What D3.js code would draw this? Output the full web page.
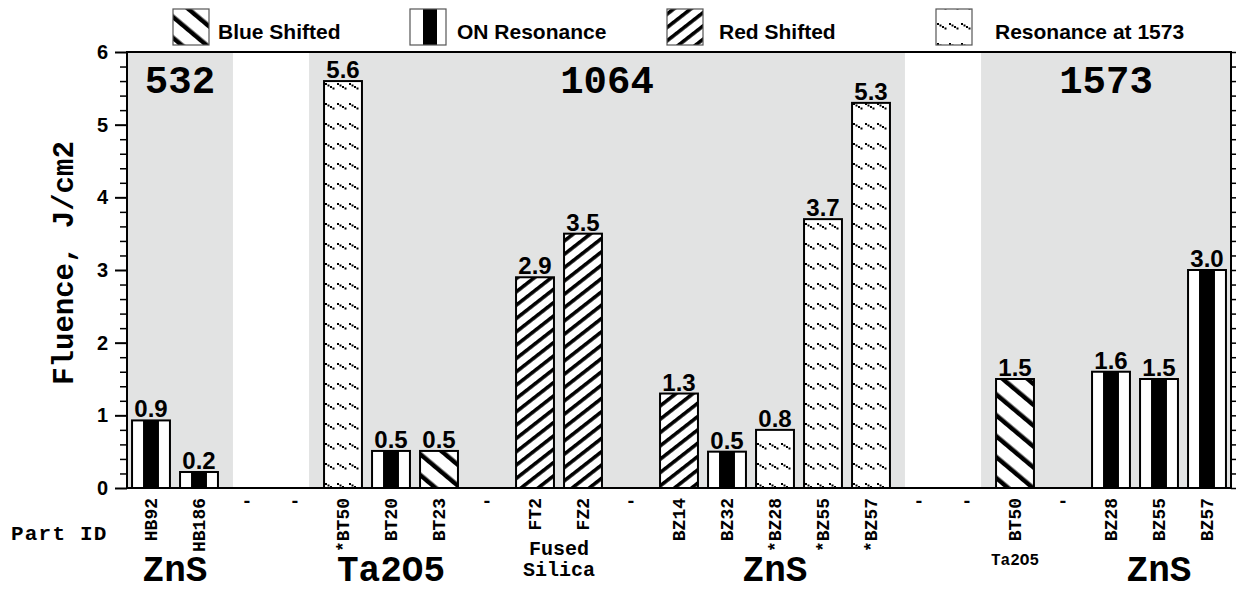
<!DOCTYPE html>
<html lang="en"><head>
  <meta charset="utf-8">
  <title>Damage threshold fluence by part</title>
  <script type="text/javascript" src="https://cdn.jsdelivr.net/npm/d3@7/dist/d3.min.js"></script>
  <style>
   body { margin: 0; background: white; }
   .mono { font-family: "Liberation Mono", "Courier New", monospace; font-weight: bold; }
   .sans { font-family: "Liberation Sans", Arial, Helvetica, sans-serif; font-weight: bold; }
  </style>
</head>
<body>
  <script type="text/javascript">
   // values
   var partIds = ["HB92", "HB186", "-", "-", "*BT50", "BT20", "BT23", "-", "FT2", "FZ2", "-",
                  "BZ14", "BZ32", "*BZ28", "*BZ55", "*BZ57", "-", "-", "BT50", "-", "BZ28", "BZ55", "BZ57"];
   var fluence = [0.93, 0.22, null, null, 5.6, 0.51, 0.51, null, 2.9, 3.5, null,
                  1.3, 0.5, 0.8, 3.7, 5.3, null, null, 1.5, null, 1.6, 1.5, 3.0];
   var shift = ["on", "on", null, null, "res", "on", "blue", null, "red", "red", null,
                "red", "on", "res", "res", "res", null, null, "blue", null, "on", "on", "on"];

   var legendKeys = ["blue", "on", "red", "res"];
   var legendLabels = ["Blue Shifted", "ON Resonance", "Red Shifted", "Resonance at 1573"];

   var laserLabels = ["532", "1064", "1573"];
   var laserFirst = [0, 4, 18];
   var laserLast = [1, 15, 22];

   var materialLabels = ["ZnS", "Ta2O5", "Fused Silica", "ZnS", "Ta2O5", "ZnS"];
   var materialFirst = [0, 4, 8, 11, 18, 20];
   var materialLast = [1, 6, 9, 15, 18, 22];

   var yTicks = [0, 1, 2, 3, 4, 5, 6];

   var width = 1236;
   var height = 593;
   var plotLeft = 127, plotRight = 1231, plotTop = 52, plotBottom = 488;

   var svg = d3.select("body").append("svg")
               .attr("width", width)
               .attr("height", height);

   var x = d3.scaleBand()
             .domain(d3.range(partIds.length))
             .range([plotLeft, plotRight])
             .paddingInner(0.21)
             .paddingOuter(0.105);
   var y = d3.scaleLinear().domain([0, 6]).range([plotBottom, plotTop]);
   var bw = x.bandwidth();

   // fill patterns
   var defs = svg.append("defs");

   var blue = defs.append("pattern").attr("id", "blue")
                  .attr("patternUnits", "userSpaceOnUse")
                  .attr("width", 16).attr("height", 16)
                  .attr("patternTransform", "rotate(-50)");
   blue.append("rect").attr("width", 16).attr("height", 16).attr("fill", "white");
   blue.append("rect").attr("width", 4.5).attr("height", 16).attr("fill", "black");

   var red = defs.append("pattern").attr("id", "red")
                 .attr("patternUnits", "userSpaceOnUse")
                 .attr("width", 10.5).attr("height", 10.5)
                 .attr("patternTransform", "rotate(52)");
   red.append("rect").attr("width", 10.5).attr("height", 10.5).attr("fill", "white");
   red.append("rect").attr("width", 3.6).attr("height", 10.5).attr("fill", "black");

   var res = defs.append("pattern").attr("id", "res")
                 .attr("patternUnits", "userSpaceOnUse")
                 .attr("width", 12).attr("height", 20);
   res.append("rect").attr("width", 12).attr("height", 20).attr("fill", "white");
   [[1, 3], [3.5, 4.5], [6, 6], [8.5, 7.5]].forEach(function(p) {
     res.append("rect").attr("x", p[0]).attr("y", p[1])
        .attr("width", 2).attr("height", 2).attr("fill", "black");
   });

   function fillFor(key) {
     if (key == "on") return "white";
     return "url(#" + key + ")";
   }

   // shaded laser wavelength regions
   var pad = 15;
   var regions = laserLabels.map(function(d, i) {
     var x0 = Math.max(plotLeft, x(laserFirst[i]) - pad);
     var x1 = Math.min(plotRight, x(laserLast[i]) + bw + pad);
     return {label: d, x0: x0, x1: x1};
   });

   svg.append("g").selectAll("rect")
      .data(regions).enter().append("rect")
      .attr("x", function(d) { return d.x0; })
      .attr("y", plotTop)
      .attr("width", function(d) { return d.x1 - d.x0; })
      .attr("height", plotBottom - plotTop)
      .attr("fill", "#e2e3e3");

   svg.append("g").selectAll("text")
      .data(regions).enter().append("text")
      .attr("class", "mono")
      .attr("x", function(d) { return (d.x0 + d.x1) / 2; })
      .attr("y", 93)
      .attr("text-anchor", "middle")
      .attr("font-size", 39)
      .text(function(d) { return d.label; });

   // bars
   var bars = partIds.map(function(d, i) {
     return {id: d, i: i, value: fluence[i], shift: shift[i]};
   }).filter(function(d) { return d.value != null; });

   var bar = svg.append("g").selectAll("g")
                .data(bars).enter().append("g");

   bar.append("rect")
      .attr("x", function(d) { return x(d.i); })
      .attr("y", function(d) { return y(d.value); })
      .attr("width", bw)
      .attr("height", function(d) { return y(0) - y(d.value); })
      .attr("fill", function(d) { return fillFor(d.shift); });

   bar.filter(function(d) { return d.shift == "on"; })
      .append("rect")
      .attr("x", function(d) { return x(d.i) + bw * 0.29; })
      .attr("y", function(d) { return y(d.value); })
      .attr("width", bw * 0.42)
      .attr("height", function(d) { return y(0) - y(d.value); })
      .attr("fill", "black");

   bar.append("rect")
      .attr("x", function(d) { return x(d.i); })
      .attr("y", function(d) { return y(d.value); })
      .attr("width", bw)
      .attr("height", function(d) { return y(0) - y(d.value); })
      .attr("fill", "none")
      .attr("stroke", "black")
      .attr("stroke-width", 2);

   bar.append("text")
      .attr("class", "sans")
      .attr("x", function(d) { return x(d.i) + bw / 2; })
      .attr("y", function(d) { return y(d.value) - 3; })
      .attr("text-anchor", "middle")
      .attr("font-size", 24)
      .text(function(d) { return d3.format(".1f")(d.value); });

   // axes
   var minorTicks = d3.range(1, 30).map(function(d) { return d / 5; })
                      .filter(function(d) { return d % 1 != 0; });

   var leftMajor = svg.append("g")
      .attr("transform", "translate(" + plotLeft + ",0)")
      .call(d3.axisLeft(y).tickValues(yTicks).tickSize(12).tickSizeOuter(0)
              .tickPadding(7).tickFormat(d3.format("d")));
   leftMajor.select(".domain").remove();
   leftMajor.selectAll("line").attr("stroke-width", 2);
   leftMajor.selectAll("text").attr("class", "sans").attr("font-size", 20).attr("fill", "black");

   var leftMinor = svg.append("g")
      .attr("transform", "translate(" + plotLeft + ",0)")
      .call(d3.axisLeft(y).tickValues(minorTicks).tickSize(7).tickFormat(""));
   leftMinor.select(".domain").remove();
   leftMinor.selectAll("line").attr("stroke-width", 1.5);

   var rightTicks = svg.append("g")
      .attr("transform", "translate(" + plotRight + ",0)")
      .call(d3.axisRight(y).tickValues(yTicks.concat(minorTicks)).tickSize(7).tickFormat(""));
   rightTicks.select(".domain").remove();
   rightTicks.selectAll("line").attr("stroke-width", 1.5);

   svg.append("rect")
      .attr("x", plotLeft).attr("y", plotTop)
      .attr("width", plotRight - plotLeft).attr("height", plotBottom - plotTop)
      .attr("fill", "none").attr("stroke", "black").attr("stroke-width", 2);

   // part id labels (blank slots keep a plain dash)
   svg.append("g").selectAll("text")
      .data(partIds).enter().append("text")
      .attr("class", "mono")
      .attr("font-size", 18)
      .attr("text-anchor", function(d) { return d == "-" ? "middle" : "end"; })
      .attr("dy", function(d) { return d == "-" ? "0" : "0.35em"; })
      .attr("transform", function(d, i) {
        var cx = x(i) + bw / 2;
        if (d == "-") return "translate(" + cx + "," + (plotBottom + 19) + ")";
        return "translate(" + cx + "," + (plotBottom + 10) + ") rotate(-90)";
      })
      .text(function(d) { return d; });

   svg.append("text")
      .attr("class", "mono")
      .attr("x", 11).attr("y", 540)
      .attr("font-size", 21)
      .attr("letter-spacing", 1.2)
      .text("Part ID");

   // material labels under the parts
   materialLabels.forEach(function(label, i) {
     var x0 = x(materialFirst[i]);
     var x1 = x(materialLast[i]) + bw;
     var span = (materialLast[i] - materialFirst[i] + 1) * x.step();
     var cx = (x0 + x1) / 2;
     if (label.length * 0.6 * 39 <= span) {
       svg.append("text").attr("class", "mono")
          .attr("x", cx).attr("y", 581)
          .attr("text-anchor", "middle")
          .attr("font-size", 36)
          .text(label);
     } else {
       var lines = label.split(" ");
       var longest = d3.max(lines, function(l) { return l.length; });
       var size = Math.min(20, span / (longest * 0.6));
       lines.forEach(function(l, k) {
         svg.append("text").attr("class", "mono")
            .attr("x", cx)
            .attr("y", 565 + (k - (lines.length - 1) / 2) * 21)
            .attr("text-anchor", "middle")
            .attr("font-size", size)
            .text(l);
       });
     }
   });

   // y axis title
   svg.append("text")
      .attr("class", "mono")
      .attr("font-size", 29)
      .attr("text-anchor", "middle")
      .attr("transform", "translate(73,263) rotate(-90)")
      .text("Fluence, J/cm2");

   // legend
   var legendX = [173, 410, 667, 936];
   var legendTextX = [218, 457, 719, 995];
   var legend = svg.append("g").selectAll("g")
                   .data(legendKeys).enter().append("g");

   legend.append("rect")
         .attr("x", function(d, i) { return legendX[i]; })
         .attr("y", 9).attr("width", 36).attr("height", 36)
         .attr("fill", function(d) { return fillFor(d); });
   legend.filter(function(d) { return d == "on"; })
         .append("rect")
         .attr("x", function(d) { return legendX[legendKeys.indexOf(d)] + 13; })
         .attr("y", 9).attr("width", 14).attr("height", 36)
         .attr("fill", "black");
   legend.append("rect")
         .attr("x", function(d, i) { return legendX[i]; })
         .attr("y", 9).attr("width", 36).attr("height", 36)
         .attr("fill", "none").attr("stroke", "#555").attr("stroke-width", 1.2);
   legend.append("text")
         .attr("class", "sans")
         .attr("x", function(d, i) { return legendTextX[i]; })
         .attr("y", 39)
         .attr("font-size", 21)
         .text(function(d, i) { return legendLabels[i]; });
  </script>
</body></html>
